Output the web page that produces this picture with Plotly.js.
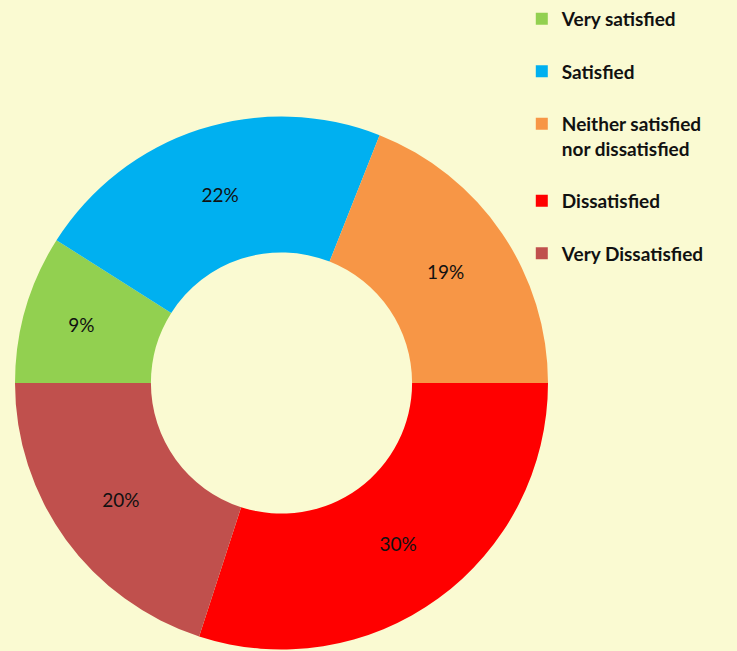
<!DOCTYPE html>
<html>
<head>
<meta charset="utf-8">
<script src="https://cdn.plot.ly/plotly-3.0.1.min.js"></script>
<style>html,body{margin:0;padding:0;background:#FAFAD2;}#chart{width:737px;height:651px;}</style>
</head>
<body>
<div id="chart"></div>
<script>
const categories = ["Very satisfied", "Satisfied", "Neither satisfied<br>nor dissatisfied", "Dissatisfied", "Very Dissatisfied"];
const values = [9, 22, 19, 30, 20];
const colors = ["#92D050", "#00B0F0", "#F79646", "#FF0000", "#C0504D"];

// pad legend entries with an empty line to match the reference spacing
const legendLabels = categories.map(c => c + "<br> ");

const trace = {
  type: "pie",
  labels: legendLabels,
  values: values,
  hole: 0.49,
  sort: false,
  direction: "clockwise",
  rotation: -90,
  marker: { colors: colors, line: { width: 0 } },
  textinfo: "percent",
  texttemplate: "%{percent:.0%}",
  textposition: "inside",
  insidetextorientation: "horizontal",
  textfont: { family: "Lato, 'Open Sans', sans-serif", size: 19, color: "#111111" },
  domain: { x: [15/737, 548/737], y: [1/651, 535/651] },
  hoverinfo: "label+percent"
};

const layout = {
  width: 737,
  height: 651,
  margin: { l: 0, r: 0, t: 0, b: 0 },
  paper_bgcolor: "#FAFAD2",
  plot_bgcolor: "#FAFAD2",
  showlegend: true,
  legend: {
    x: 0.708, xanchor: "left",
    y: 1.0, yanchor: "top",
    valign: "top",
    bgcolor: "rgba(0,0,0,0)",
    font: { family: "Lato, 'Open Sans', sans-serif", size: 19, color: "#111111", weight: "bold" },
    traceorder: "normal"
  }
};

Plotly.newPlot("chart", [trace], layout, { displayModeBar: false });
</script>
</body>
</html>
